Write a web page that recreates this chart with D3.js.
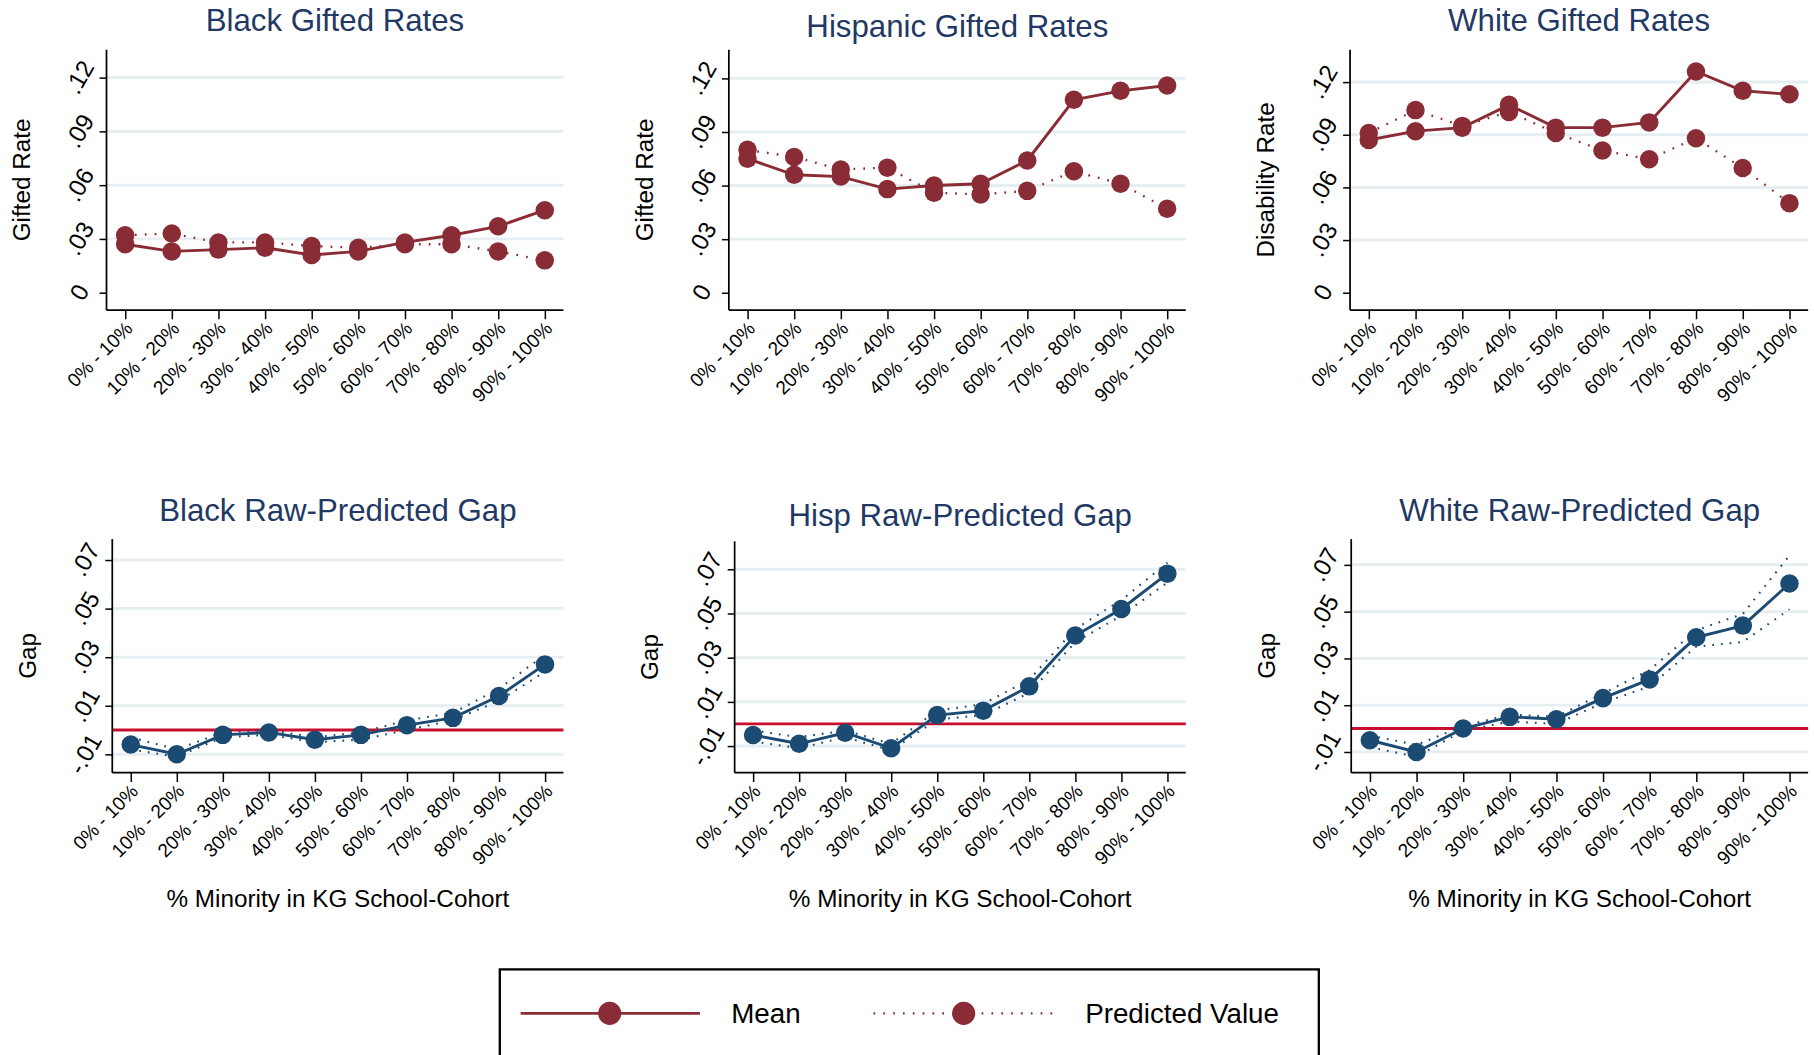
<!DOCTYPE html>
<html><head><meta charset="utf-8">
<script src="https://cdn.jsdelivr.net/npm/d3@7/dist/d3.min.js"></script>
<style>body{margin:0;background:#fff}svg{display:block}text{font-family:"Liberation Sans",Arial,sans-serif}</style>
</head><body>
<script>
const categories=["0% - 10%","10% - 20%","20% - 30%","30% - 40%","40% - 50%","50% - 60%","60% - 70%","70% - 80%","80% - 90%","90% - 100%"];
const blackMean=[0.027,0.023,0.024,0.025,0.021,0.023,0.028,0.032,0.037,0.046];
const blackPred=[0.032,0.033,0.028,0.028,0.026,0.025,0.027,0.027,0.023,0.018];
const hispMean=[0.075,0.066,0.065,0.058,0.060,0.061,0.074,0.108,0.113,0.116];
const hispPred=[0.080,0.076,0.069,0.070,0.056,0.055,0.057,0.068,0.061,0.047];
const whiteMean=[0.087,0.092,0.094,0.107,0.094,0.094,0.097,0.126,0.115,0.113];
const whitePred=[0.091,0.104,0.095,0.103,0.091,0.081,0.076,0.088,0.071,0.051];
const blackGap=[-0.006,-0.010,-0.002,-0.001,-0.004,-0.002,0.002,0.005,0.014,0.027];
const blackLo=[-0.008,-0.011,-0.003,-0.002,-0.005,-0.004,0.000,0.004,0.012,0.024];
const blackHi=[-0.003,-0.008,-0.001,0.000,-0.003,-0.001,0.004,0.007,0.017,0.031];
const hispGap=[-0.005,-0.009,-0.004,-0.011,0.004,0.006,0.017,0.040,0.052,0.068];
const hispLo=[-0.008,-0.011,-0.006,-0.012,0.002,0.004,0.014,0.037,0.049,0.064];
const hispHi=[-0.003,-0.006,-0.003,-0.009,0.006,0.009,0.020,0.043,0.056,0.073];
const whiteGap=[-0.005,-0.010,0.000,0.005,0.004,0.013,0.021,0.039,0.044,0.062];
const whiteLo=[-0.008,-0.012,-0.001,0.003,0.002,0.011,0.018,0.035,0.037,0.051];
const whiteHi=[-0.003,-0.007,0.001,0.006,0.005,0.015,0.025,0.042,0.049,0.074];
const rateTicks=[0,0.03,0.06,0.09,0.12];
const rateTickLabels=["0",".03",".06",".09",".12"];
const gapTicks=[-0.01,0.01,0.03,0.05,0.07];
const gapTickLabels=["-.01",".01",".03",".05",".07"];

const RED="#8a2c35", BLUE="#1b4a73", NAVY="#1f3864";
const svg=d3.select("body").append("svg").attr("width",1814).attr("height",1055).attr("viewBox","0 0 1568 912");

function panel(o){
  const g=svg.append("g");
  const x=d3.scalePoint().domain(categories).range([o.x0,o.x1]).padding(0.4);
  const y=d3.scaleLinear().domain(o.dom).range([o.y1,o.y0]);
  o.ticks.forEach(t=>{ if(t!==0 || o.gap) g.append("line").attr("x1",o.x0).attr("x2",o.x1).attr("y1",y(t)).attr("y2",y(t)).attr("stroke","#e6eef1").attr("stroke-width",2.5);});
  if(o.gap) g.append("line").attr("x1",o.x0).attr("x2",o.x1).attr("y1",y(0)).attr("y2",y(0)).attr("stroke","#c8102e").attr("stroke-width",2.5);
  const ya=g.append("g").attr("transform",`translate(${o.x0},0)`).call(d3.axisLeft(y).tickValues(o.ticks).tickFormat((d,i)=>o.labels[i]).tickSize(6).tickSizeOuter(0));
  ya.select(".domain").attr("d",`M0,${o.y0}V${o.y1}`).attr("stroke","#000").attr("stroke-width",1.5);
  ya.selectAll(".tick line").attr("stroke","#000").attr("stroke-width",1.3);
  ya.selectAll(".tick text").attr("font-size",21).attr("fill","#000").attr("text-anchor","middle").attr("x",0).attr("dy",0)
    .attr("transform","translate(-22,0) rotate(-60)").attr("dominant-baseline","middle");
  const xa=g.append("g").attr("transform",`translate(0,${o.y1})`).call(d3.axisBottom(x).tickSize(8).tickSizeOuter(0));
  xa.select(".domain").attr("d",`M${o.x0},0H${o.x1}`).attr("stroke","#000").attr("stroke-width",1.5);
  xa.selectAll(".tick line").attr("stroke","#000").attr("stroke-width",1.3);
  xa.selectAll(".tick text").attr("font-size",16.5).attr("fill","#000").attr("text-anchor","end").attr("dy",0).attr("y",0)
    .attr("transform","translate(7,17) rotate(-45)");
  g.append("text").attr("x",(o.x0+o.x1)/2).attr("y",o.ty).attr("text-anchor","middle").attr("font-size",27).attr("fill",NAVY).text(o.title);
  g.append("text").attr("transform",`translate(${o.x0-66},${(o.y0+o.y1)/2}) rotate(-90)`).attr("text-anchor","middle").attr("font-size",21).text(o.ylab);
  if(o.xlab) g.append("text").attr("x",(o.x0+o.x1)/2).attr("y",784).attr("text-anchor","middle").attr("font-size",21).text(o.xlab);
  const line=d3.line().x((d,i)=>x(categories[i])).y(d=>y(d));
  if(o.gap){
    [o.lo,o.hi].forEach(s=>g.append("path").attr("d",line(s)).attr("fill","none").attr("stroke",BLUE).attr("stroke-width",1.8).attr("stroke-dasharray","1.5,6"));
    g.append("path").attr("d",line(o.mean)).attr("fill","none").attr("stroke",BLUE).attr("stroke-width",2.5);
    g.selectAll(null).data(o.mean).enter().append("circle").attr("cx",(d,i)=>x(categories[i])).attr("cy",d=>y(d)).attr("r",8).attr("fill",BLUE);
  } else {
    g.append("path").attr("d",line(o.pred)).attr("fill","none").attr("stroke",RED).attr("stroke-width",2).attr("stroke-dasharray","1.5,7");
    g.append("path").attr("d",line(o.mean)).attr("fill","none").attr("stroke",RED).attr("stroke-width",2.5);
    [o.pred,o.mean].forEach(s=>g.selectAll(null).data(s).enter().append("circle").attr("cx",(d,i)=>x(categories[i])).attr("cy",d=>y(d)).attr("r",8).attr("fill",RED));
  }
}
panel({x0:92,x1:487,y0:43,y1:268,dom:[-0.0097,0.1355],ticks:rateTicks,labels:rateTickLabels,title:"Black Gifted Rates",ty:27,ylab:"Gifted Rate",mean:blackMean,pred:blackPred});
panel({x0:630,x1:1025,y0:43,y1:268,dom:[-0.0097,0.136],ticks:rateTicks,labels:rateTickLabels,title:"Hispanic Gifted Rates",ty:32,ylab:"Gifted Rate",mean:hispMean,pred:hispPred});
panel({x0:1167,x1:1563,y0:43,y1:268,dom:[-0.0099,0.1384],ticks:rateTicks,labels:rateTickLabels,title:"White Gifted Rates",ty:27,ylab:"Disability Rate",mean:whiteMean,pred:whitePred});
panel({x0:97,x1:487,y0:466,y1:668,dom:[-0.0176,0.0786],ticks:gapTicks,labels:gapTickLabels,title:"Black Raw-Predicted Gap",ty:450,ylab:"Gap",gap:true,mean:blackGap,lo:blackLo,hi:blackHi,xlab:"% Minority in KG School-Cohort"});
panel({x0:635,x1:1025,y0:468,y1:668,dom:[-0.0221,0.0826],ticks:gapTicks,labels:gapTickLabels,title:"Hisp Raw-Predicted Gap",ty:455,ylab:"Gap",gap:true,mean:hispGap,lo:hispLo,hi:hispHi,xlab:"% Minority in KG School-Cohort"});
panel({x0:1168,x1:1563,y0:466,y1:668,dom:[-0.0189,0.081],ticks:gapTicks,labels:gapTickLabels,title:"White Raw-Predicted Gap",ty:450,ylab:"Gap",gap:true,mean:whiteGap,lo:whiteLo,hi:whiteHi,xlab:"% Minority in KG School-Cohort"});

const lg=svg.append("g");
lg.append("rect").attr("x",432).attr("y",838).attr("width",708).attr("height",90).attr("fill","#fff").attr("stroke","#000").attr("stroke-width",2);
lg.append("line").attr("x1",450).attr("x2",605).attr("y1",876).attr("y2",876).attr("stroke",RED).attr("stroke-width",2.5);
lg.append("circle").attr("cx",527).attr("cy",876).attr("r",10).attr("fill",RED);
lg.append("text").attr("x",632).attr("y",884).attr("font-size",24).text("Mean");
lg.append("line").attr("x1",755).attr("x2",912).attr("y1",876).attr("y2",876).attr("stroke",RED).attr("stroke-width",2).attr("stroke-dasharray","1.5,7");
lg.append("circle").attr("cx",833).attr("cy",876).attr("r",10).attr("fill",RED);
lg.append("text").attr("x",938).attr("y",884).attr("font-size",24).text("Predicted Value");
</script></body></html>
